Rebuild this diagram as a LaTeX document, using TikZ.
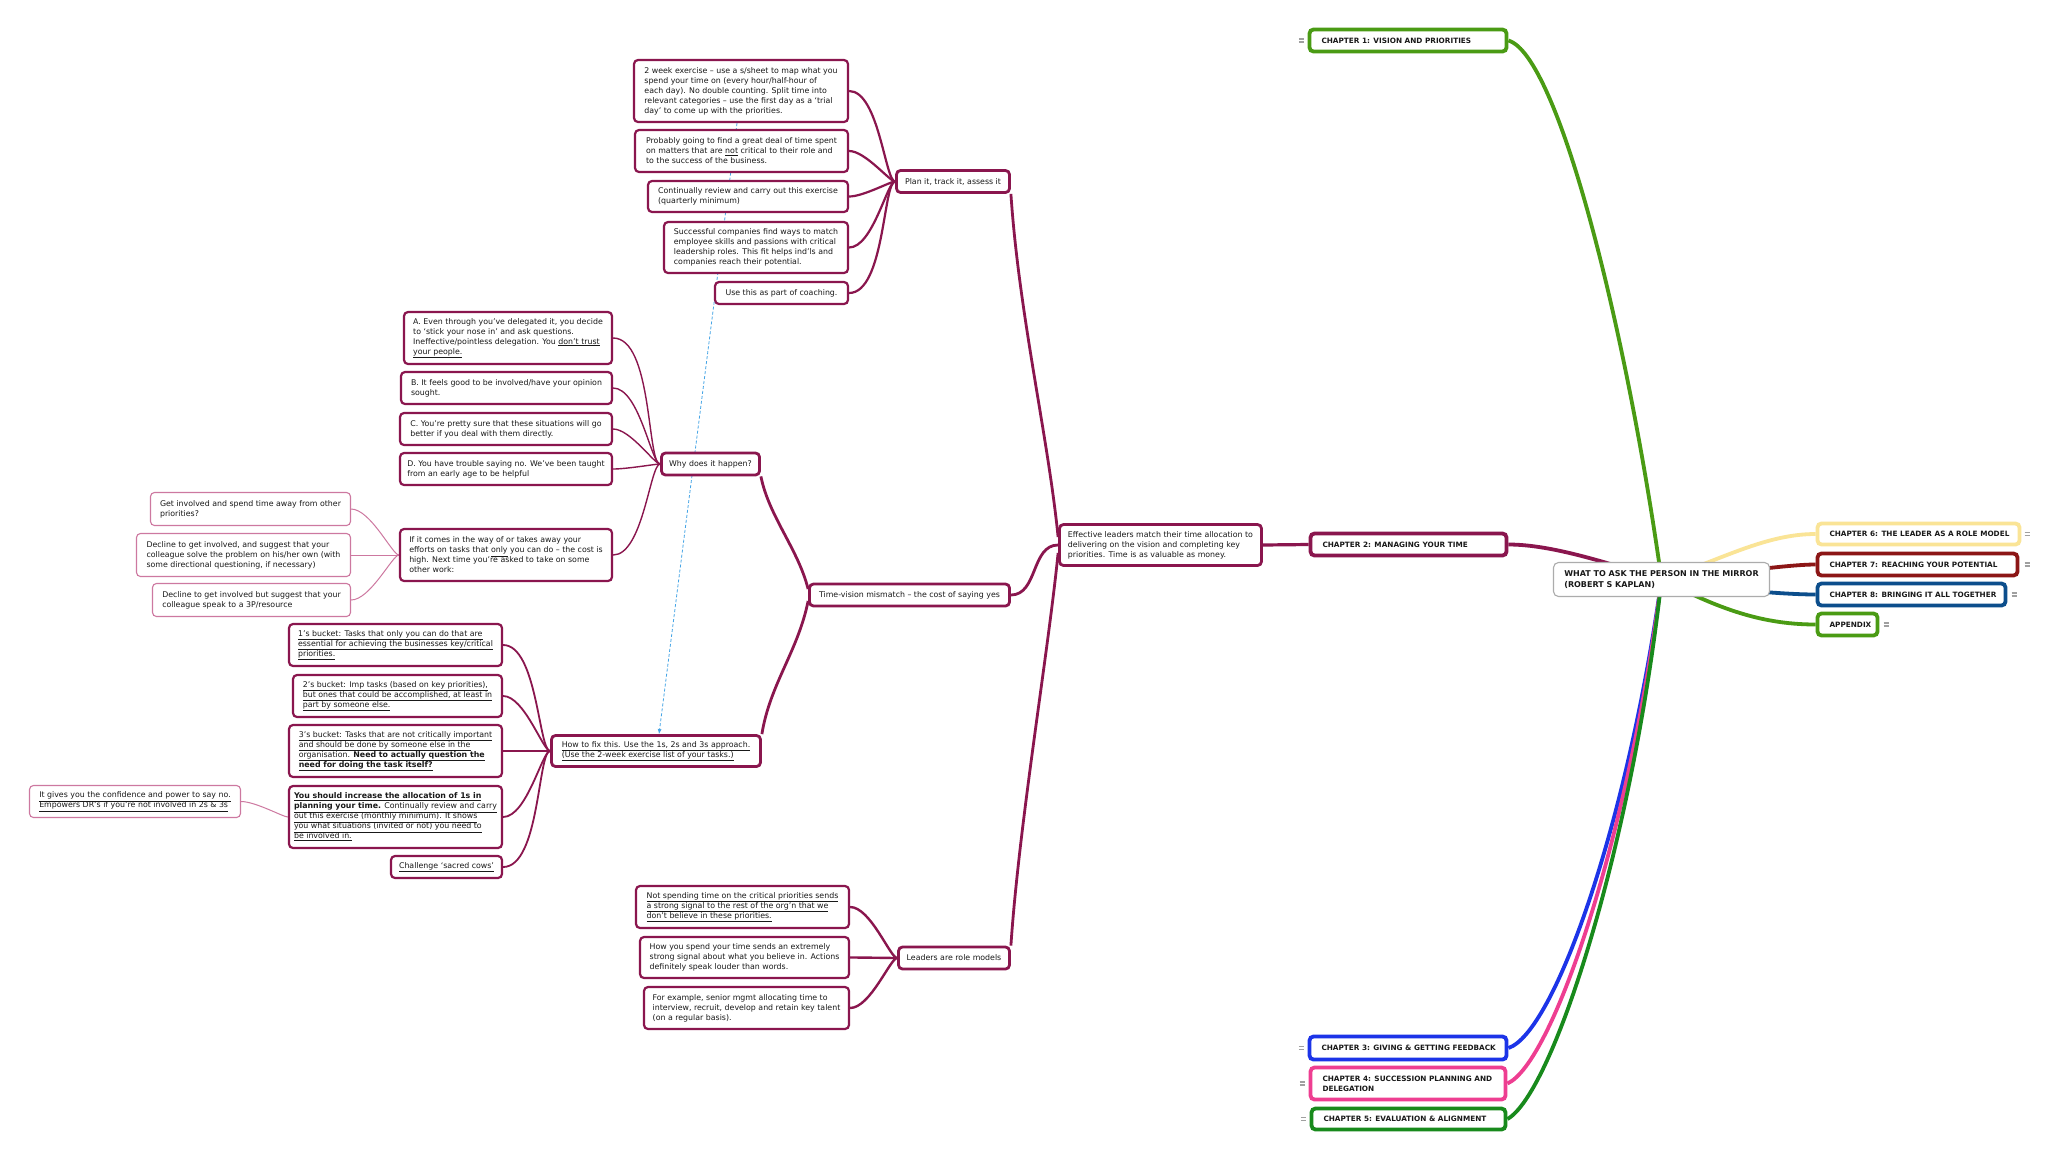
\documentclass[tikz,border=0pt]{standalone}
\usepackage{fontspec}
\setmainfont{DejaVu Sans}
\usetikzlibrary{calc,backgrounds,arrows.meta}
\definecolor{mar}{RGB}{138,22,78}
\definecolor{lite}{RGB}{205,120,160}
\definecolor{cgA}{RGB}{74,155,20}
\definecolor{cbl}{RGB}{28,52,232}
\definecolor{cpk}{RGB}{238,62,145}
\definecolor{cgr}{RGB}{24,138,28}
\definecolor{cyl}{RGB}{250,228,150}
\definecolor{crd}{RGB}{140,22,22}
\definecolor{cnv}{RGB}{12,78,140}
\definecolor{arrblue}{RGB}{70,165,230}
\definecolor{txt}{RGB}{25,25,25}
\definecolor{mk}{RGB}{160,160,160}
\newcommand{\mkcb}[2]{\makebox[#1][l]{#2}}
\begin{document}
\begin{tikzpicture}[x=1pt,y=-1pt,
  base/.style={rounded corners=4pt, fill=white, align=left, text=txt, font=\fontsize{7.85}{10}\selectfont, inner xsep=4pt, inner ysep=2pt},
  leaf/.style={base, draw=mar, line width=2.2pt},
  lvl/.style={base, draw=mar, line width=2.8pt},
  litebox/.style={base, draw=lite, line width=1.1pt},
  chap/.style={rounded corners=4pt, fill=white, align=left, text=txt, font=\bfseries\fontsize{7.3}{10}\selectfont, inner xsep=12pt, inner ysep=2pt, line width=3.8pt},
  cmain/.style={draw=mar, line width=2.8pt},
  cleaf/.style={draw=mar, line width=2.2pt},
  cthin/.style={draw=mar, line width=1.4pt},
  clite/.style={draw=lite, line width=1pt},
  cchap/.style={line width=3.8pt},
  cv/.style={out=0, in=180, out looseness=0.75, in looseness=0.25},
  eqm/.pic={\draw[mk, line width=1.4pt] (-2.8,-1.5) -- (2.8,-1.5) (-2.8,1.5) -- (2.8,1.5);}
]
\useasboundingbox (0,0) rectangle (2048,1160);

% ---------- Plan it branch ----------
\node[leaf, minimum width=214pt, minimum height=62pt] (b1) at (741,91)
 {2 week exercise – use a s/sheet to map what you\\spend your time on (every hour/half-hour of\\each day). No double counting. Split time into\\relevant categories – use the first day as a `trial\\day' to come up with the priorities.};
\node[leaf, minimum width=213pt, minimum height=42pt] (b2) at (741.5,151)
 {Probably going to find a great deal of time spent\\on matters that are \underline{not} critical to their role and\\to the success of the business.};
\node[leaf, minimum width=200pt, minimum height=31pt] (b3) at (748,196.5)
 {Continually review and carry out this exercise\\(quarterly minimum)};
\node[leaf, minimum width=184pt, minimum height=51pt] (b4) at (756,247.5)
 {Successful companies find ways to match\\employee skills and passions with critical\\leadership roles. This fit helps ind'ls and\\companies reach their potential.};
\node[leaf, minimum width=133pt, minimum height=22pt] (b5) at (781.5,293)
 {Use this as part of coaching.};
\node[lvl, minimum width=113pt, minimum height=22pt] (plan) at (953,181.5)
 {Plan it, track it, assess it};

% ---------- Why branch ----------
\node[leaf, minimum width=208pt, minimum height=52pt] (qa) at (508,338)
 {A. Even through you've delegated it, you decide\\to `stick your nose in' and ask questions.\\Ineffective/pointless delegation. You \underline{don't trust}\\\underline{your people.}};
\node[leaf, minimum width=211pt, minimum height=32pt] (qb) at (506.5,388)
 {B. It feels good to be involved/have your opinion\\sought.};
\node[leaf, minimum width=212pt, minimum height=32pt] (qc) at (506,429)
 {C. You're pretty sure that these situations will go\\better if you deal with them directly.};
\node[leaf, minimum width=212pt, minimum height=32pt] (qd) at (506,469)
 {D. You have trouble saying no. We've been taught\\from an early age to be helpful};
\node[leaf, minimum width=212pt, minimum height=52pt] (ifc) at (506,555)
 {If it comes in the way of or takes away your\\efforts on tasks that \underline{only} you can do – the cost is\\high. Next time you're asked to take on some\\other work:};
\node[lvl, minimum width=98pt, minimum height=22pt] (why) at (710.5,464)
 {Why does it happen?};
\node[litebox, minimum width=200pt, minimum height=33pt] (get) at (250.5,509)
 {Get involved and spend time away from other\\priorities?};
\node[litebox, minimum width=214pt, minimum height=43pt] (dec1) at (243.5,555)
 {Decline to get involved, and suggest that your\\colleague solve the problem on his/her own (with\\some directional questioning, if necessary)};
\node[litebox, minimum width=198pt, minimum height=33pt] (dec2) at (251.5,600)
 {Decline to get involved but suggest that your\\colleague speak to a 3P/resource};

% ---------- How to fix branch ----------
\node[leaf, minimum width=213pt, minimum height=42pt] (k1) at (395.5,645)
 {\underline{1's bucket: Tasks that only you can do that are}\\\underline{essential for achieving the businesses key/critical}\\\underline{priorities.}};
\node[leaf, minimum width=209pt, minimum height=42pt] (k2) at (397.5,696)
 {\underline{2's bucket: Imp tasks (based on key priorities),}\\\underline{but ones that could be accomplished, at least in}\\\underline{part by someone else.}};
\node[leaf, minimum width=213pt, minimum height=52pt] (k3) at (395.5,751)
 {\underline{3's bucket: Tasks that are not critically important}\\\underline{and should be done by someone else in the}\\\underline{organisation. \textbf{Need to actually question the}}\\\underline{\textbf{need for doing the task itself?}}};
\node[leaf, minimum width=213pt, minimum height=62pt] (you) at (395.5,817)
 {\underline{\textbf{You should increase the allocation of 1s in}}\\\underline{\textbf{planning your time.} Continually review and carry}\\\underline{out this exercise (monthly minimum). It shows}\\\underline{you what situations (invited or not) you need to}\\\underline{be involved in.}};
\node[leaf, minimum width=111pt, minimum height=22pt] (chal) at (446.5,867)
 {\underline{Challenge `sacred cows'}};
\node[litebox, minimum width=211pt, minimum height=32pt] (gives) at (135,801.5)
 {\underline{It gives you the confidence and power to say no.}\\\underline{Empowers DR's if you're not involved in 2s \& 3s}};
\node[lvl, minimum width=209pt, minimum height=31pt] (how) at (656,751)
 {\underline{How to fix this. Use the 1s, 2s and 3s approach.}\\\underline{(Use the 2-week exercise list of your tasks.)}};

% ---------- Leaders branch ----------
\node[leaf, minimum width=213pt, minimum height=42pt] (nsp) at (742.5,907)
 {\underline{Not spending time on the critical priorities sends}\\\underline{a strong signal to the rest of the org'n that we}\\\underline{don't believe in these priorities.}};
\node[leaf, minimum width=209pt, minimum height=41pt] (hys) at (744.5,957.5)
 {How you spend your time sends an extremely\\strong signal about what you believe in. Actions\\definitely speak louder than words.};
\node[leaf, minimum width=205pt, minimum height=42pt] (fex) at (746.5,1008)
 {For example, senior mgmt allocating time to\\interview, recruit, develop and retain key talent\\(on a regular basis).};
\node[lvl, minimum width=111pt, minimum height=22pt] (lead) at (954,958)
 {Leaders are role models};

% ---------- level 1 ----------
\node[lvl, minimum width=200pt, minimum height=22pt] (tv) at (909.5,595)
 {Time-vision mismatch – the cost of saying yes};
\node[lvl, minimum width=202pt, minimum height=41pt] (eff) at (1160.5,545)
 {Effective leaders match their time allocation to\\delivering on the vision and completing key\\priorities. Time is as valuable as money.};

% ---------- chapters ----------
\node[chap, draw=mar, minimum height=22pt] (ch2) at (1408.5,544.5) {\mkcb{172pt}{CHAPTER 2: MANAGING YOUR TIME}};
\node[chap, draw=cgA, minimum height=22pt] (ch1) at (1408,40.5) {\mkcb{173pt}{CHAPTER 1: VISION AND PRIORITIES}};
\node[chap, draw=cbl, minimum height=23pt] (ch3) at (1408,1048) {\mkcb{173pt}{CHAPTER 3: GIVING \& GETTING FEEDBACK}};
\node[chap, draw=cpk, minimum height=32pt] (ch4) at (1408,1083.5) {\mkcb{171pt}{CHAPTER 4: SUCCESSION PLANNING AND}\\\mkcb{171pt}{DELEGATION}};
\node[chap, draw=cgr, minimum height=21pt] (ch5) at (1408.5,1119) {\mkcb{170pt}{CHAPTER 5: EVALUATION \& ALIGNMENT}};
\node[chap, draw=cyl, minimum height=21pt] (ch6) at (1918.5,534) {\mkcb{178pt}{CHAPTER 6: THE LEADER AS A ROLE MODEL}};
\node[chap, draw=crd, minimum height=22pt] (ch7) at (1917.5,564.5) {\mkcb{176pt}{CHAPTER 7: REACHING YOUR POTENTIAL}};
\node[chap, draw=cnv, minimum height=22pt] (ch8) at (1911.5,594.5) {\mkcb{164pt}{CHAPTER 8: BRINGING IT ALL TOGETHER}};
\node[chap, draw=cgA, minimum height=22pt] (app) at (1847.5,624.5) {\mkcb{36pt}{APPENDIX}};

\node[rounded corners=5pt, fill=white, draw=gray!65, line width=1.1pt, align=left, text=txt,
  font=\bfseries\fontsize{8}{11.5}\selectfont, minimum width=216pt, minimum height=34pt, inner xsep=6pt]
  (center) at (1661.5,579.5) {WHAT TO ASK THE PERSON IN THE MIRROR\\(ROBERT S KAPLAN)};

% collapse markers
\pic at ($(ch1.west)+(-6,0)$) {eqm};
\pic at ($(ch3.west)+(-6,0)$) {eqm};
\pic at ($(ch4.west)+(-6,0)$) {eqm};
\pic at ($(ch5.west)+(-6,0)$) {eqm};
\pic at ($(ch6.east)+(6,0)$) {eqm};
\pic at ($(ch7.east)+(8,0)$) {eqm};
\pic at ($(ch8.east)+(7,0)$) {eqm};
\pic at ($(app.east)+(7,0)$) {eqm};

% ---------- connectors ----------
\begin{scope}[on background layer]
\fill[white] (0,0) rectangle (2048,1160);
% chapters to centre
\draw[cchap, cgA] (ch1.east) .. controls +(50,15) and +(-35,-250) .. (center.center);
\draw[cchap, mar] (ch2.east) .. controls +(45,0) and +(-50,-15) .. (center.center);
\draw[cchap, cbl] (ch3.east) .. controls +(45,-15) and +(-35,250) .. (center.center);
\draw[cchap, cpk] (ch4.east) .. controls +(45,-20) and +(-33,260) .. (center.center);
\draw[cchap, cgr] (ch5.east) .. controls +(45,-25) and +(-30,270) .. (center.center);
\draw[cchap, cyl] (ch6.west) .. controls +(-50,0) and +(60,-20) .. (center.center);
\draw[cchap, crd] (ch7.west) .. controls +(-30,0) and +(60,-5) .. (center.center);
\draw[cchap, cnv] (ch8.west) .. controls +(-30,0) and +(60,10) .. (center.center);
\draw[cchap, cgA] (app.west) .. controls +(-60,0) and +(50,25) .. (center.center);
% chapter 2 subtree
\draw[cmain, line width=3.2pt] (eff.east) -- (ch2.west);
\draw[cmain] (plan.south east) .. controls +(8,120) and +(-10,-100) .. ([yshift=8pt]eff.west);
\draw[cmain] (tv.east) to[out=0,in=180] (eff.west);
\draw[cmain] (lead.north east) .. controls +(8,-120) and +(-10,100) .. ([yshift=-8pt]eff.west);
\draw[cmain] (why.south east) .. controls +(8,40) and +(-10,-40) .. ([yshift=6pt]tv.west);
\draw[cmain] (how.north east) .. controls +(8,-50) and +(-10,50) .. ([yshift=-6pt]tv.west);
\foreach \n in {b1,b2,b3,b4,b5} \draw[cleaf] (\n.east) to[cv] (plan.west);
\foreach \n in {qa,qb,qc,qd,ifc} \draw[cthin] (\n.east) to[cv] (why.west);
\foreach \n in {get,dec1,dec2} \draw[clite] (\n.east) to[cv] (ifc.west);
\foreach \n in {k1,k2,k3,you,chal} \draw[cleaf, line width=1.8pt] (\n.east) to[cv] (how.west);
\draw[clite] (gives.east) to[cv] (you.west);
\foreach \n in {nsp,hys,fex} \draw[cleaf, line width=2.4pt] (\n.east) to[cv] (lead.west);
% relationship
\draw[arrblue, line width=0.8pt, dash pattern=on 3pt off 2pt, -{Latex[length=5pt,width=4pt]}]
  ([xshift=-4pt]b1.south) -- ([xshift=3pt]how.north);
\end{scope}
\end{tikzpicture}
\end{document}
